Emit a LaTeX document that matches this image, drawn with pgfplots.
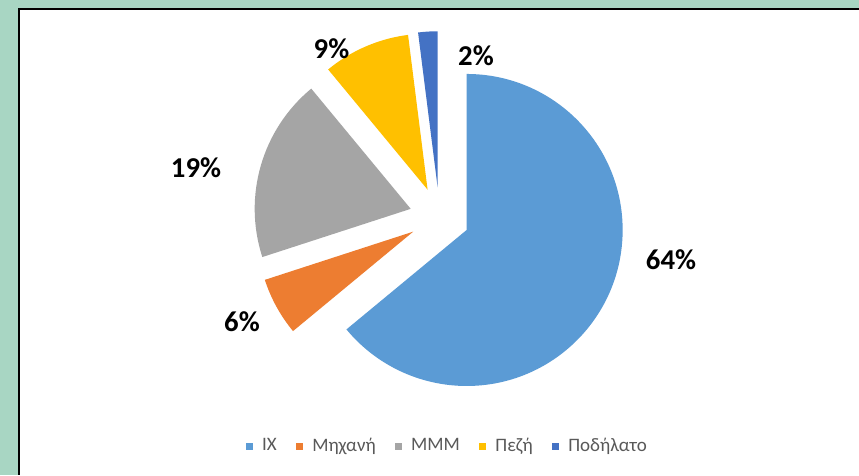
\documentclass[border=0pt]{standalone}
\usepackage{pgfplots}
\pgfplotsset{compat=1.18}
\usepackage{pgfplotstable}
\usepackage{fontspec}
\setmainfont{Carlito}
\definecolor{cIX}{HTML}{5B9BD5}
\definecolor{cMot}{HTML}{ED7D31}
\definecolor{cMMM}{HTML}{A5A5A5}
\definecolor{cPez}{HTML}{FFC000}
\definecolor{cPod}{HTML}{4472C4}
\definecolor{bggreen}{HTML}{A8D6C3}
\definecolor{leggray}{HTML}{595959}

% share (%), colour, label position (px units, y up)
\pgfplotstableread{
value col lx ly
64 cIX 671 215
6 cMot 242 153
19 cMMM 196 307
9 cPez 331.5 426
2 cPod 476 419
}\piedata

\def\pcx{439.5}
\def\pcy{257.8}
\def\pex{30}
\def\pR{62.4pt}

\begin{document}
\begin{tikzpicture}
\begin{axis}[
  scale only axis, width=343.6pt, height=190pt,
  xmin=0, xmax=859, ymin=0, ymax=475,
  hide axis, clip=false,
  legend columns=-1,
  legend image code/.code={\fill[#1, draw=none] (0pt,-1.4pt) rectangle (2.8pt,1.4pt);\node[inner sep=0pt, outer sep=0pt, minimum size=0pt, draw=none, fill=none] at (4.4pt,0pt) {};},
  legend style={at={(axis cs:449,28.3)}, anchor=center, draw=none, fill=none,
     font=\fontsize{7.6}{9}\selectfont, text=leggray,
     /tikz/every even column/.append style={column sep=5.8pt}},
]
\fill[bggreen] (axis cs:0,0) rectangle (axis cs:859,475);
\fill[black] (axis cs:18,0) rectangle (axis cs:859,467);
\fill[white] (axis cs:20,0) rectangle (axis cs:859,465);
\pgfplotsextra{
  \gdef\cumul{0}
  \foreach \i in {0,...,4}{
    \pgfplotstablegetelem{\i}{value}\of\piedata \let\sval\pgfplotsretval
    \pgfplotstablegetelem{\i}{col}\of\piedata \let\slicecol\pgfplotsretval
    \pgfplotstablegetelem{\i}{lx}\of\piedata \let\labx\pgfplotsretval
    \pgfplotstablegetelem{\i}{ly}\of\piedata \let\laby\pgfplotsretval
    \pgfmathsetmacro\sa{90-3.6*\cumul}
    \pgfmathsetmacro\ea{90-3.6*(\cumul+\sval)}
    \pgfmathsetmacro\ma{(\sa+\ea)/2}
    \pgfmathsetmacro\vx{\pcx+\pex*cos(\ma)}
    \pgfmathsetmacro\vy{\pcy+\pex*sin(\ma)}
    \fill[fill=\slicecol] (axis cs:\vx,\vy) -- ++(\sa:\pR) arc[start angle=\sa, end angle=\ea, radius=\pR] -- cycle;
    \node[font=\fontsize{11.5}{13}\selectfont\bfseries, text=black] at (axis cs:\labx,\laby) {\sval\%};
    \pgfmathsetmacro\newc{\cumul+\sval}
    \xdef\cumul{\newc}
  }
}
\addlegendimage{fill=cIX}\addlegendentry{ΙΧ}
\addlegendimage{fill=cMot}\addlegendentry{Μηχανή}
\addlegendimage{fill=cMMM}\addlegendentry{ΜΜΜ}
\addlegendimage{fill=cPez}\addlegendentry{Πεζή}
\addlegendimage{fill=cPod}\addlegendentry{Ποδήλατο}
\end{axis}
\end{tikzpicture}
\end{document}
